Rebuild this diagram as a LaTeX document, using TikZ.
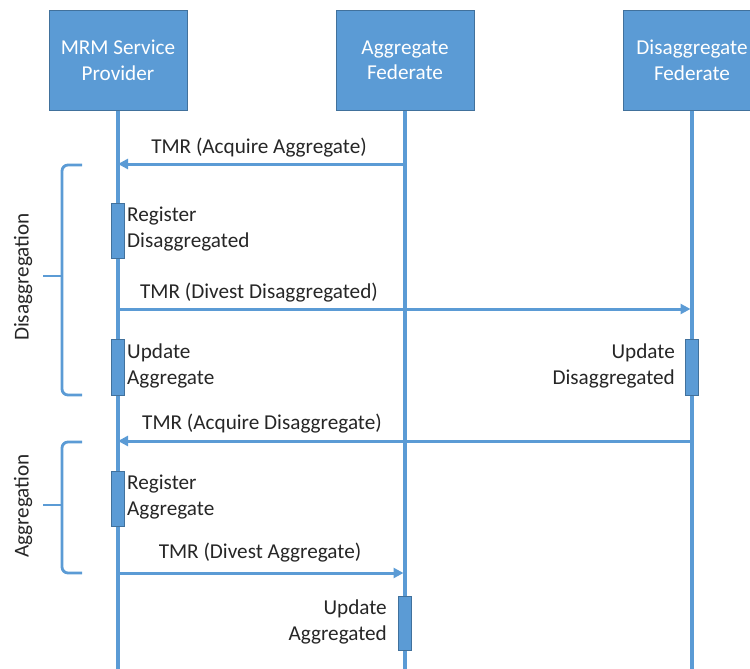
\documentclass[tikz,border=0pt]{standalone}
\usepackage{fontspec}
\setmainfont{Carlito}
\usepackage{xcolor}
\usepackage{tikz}
\usetikzlibrary{arrows.meta, positioning, calc}
\definecolor{lifeblue}{RGB}{91,155,213}
\definecolor{edgeblue}{RGB}{65,113,156}

\begin{document}
\begin{tikzpicture}[
    x=1pt, y=-1pt,
    font=\fontsize{21.2}{25.5}\selectfont,
    >={Triangle[length=10pt, width=10pt]},
    actor/.style={draw=edgeblue, fill=lifeblue, line width=1pt, text=white, align=center, minimum width=138pt, minimum height=99pt, inner sep=0pt},
    lifeline/.style={draw=lifeblue, line width=3.2pt},
    msg/.style={->, draw=lifeblue, fill=lifeblue, line width=3pt},
    msglabel/.style={text=black!85, inner sep=0pt},
    actbar/.style={draw=edgeblue, fill=lifeblue, line width=0.8pt, minimum width=13pt, inner sep=0pt},
    note/.style={text=black!85, inner sep=0pt},
    bracket/.style={draw=lifeblue, line width=2.8pt, rounded corners=6pt}
]
\useasboundingbox (0,0) rectangle (750,669);

% participants
\node[actor] (mrm) at (118,60.5) {MRM Service\\Provider};
\node[actor] (agg) at (405,60.5) {Aggregate\\Federate};
\node[actor] (dis) at (692,60.5) {Disaggregate\\Federate};

% lifelines
\draw[lifeline] (mrm.south) -- (mrm.south |- 0,669);
\draw[lifeline] (agg.south) -- (agg.south |- 0,669);
\draw[lifeline] (dis.south) -- (dis.south |- 0,669);

% activation bars
\node[actbar, minimum height=55pt] (regdis) at (118,230.5) {};
\node[actbar, minimum height=56pt] (updagg) at (118,367) {};
\node[actbar, minimum height=56pt] (upddis) at (692,367) {};
\node[actbar, minimum height=55pt] (regagg) at (118,498.5) {};
\node[actbar, minimum height=54pt] (updaggd) at (405,623) {};

\node[note, anchor=west, align=left] at (127,229) {Register\\Disaggregated};
\node[note, anchor=west, align=left] at (127,366) {Update\\Aggregate};
\node[note, anchor=east, align=right] at (675,366) {Update\\Disaggregated};
\node[note, anchor=west, align=left] at (127,497) {Register\\Aggregate};
\node[note, anchor=east, align=right] at (387,622) {Update\\Aggregated};

% messages
\draw[msg] (agg.south |- 0,164) -- (mrm.south |- 0,164);
\node[msglabel] (m1) at (259,148) {TMR (Acquire Aggregate)};
\draw[msg] (mrm.south |- 0,309) -- ([xshift=-1.5pt]dis.south |- 0,309);
\node[msglabel] (m2) at (259,293) {TMR (Divest Disaggregated)};
\draw[msg] (dis.south |- 0,441) -- (mrm.south |- 0,441);
\node[msglabel] (m3) at (262,424) {TMR (Acquire Disaggregate)};
\draw[msg] (mrm.south |- 0,573) -- ([xshift=-1.5pt]agg.south |- 0,573);
\node[msglabel] (m4) at (260,553) {TMR (Divest Aggregate)};

% phase brackets
\draw[bracket] (82,165) -- (62,165) -- (62,395) -- (82,395);
\draw[bracket] (62,276) -- (43,276);
\node[note, rotate=90] (disphase) at (23,277) {Disaggregation};

\draw[bracket] (82,442) -- (62,442) -- (62,573) -- (82,573);
\draw[bracket] (62,505) -- (43,505);
\node[note, rotate=90] (aggphase) at (23,506) {Aggregation};

\end{tikzpicture}
\end{document}
